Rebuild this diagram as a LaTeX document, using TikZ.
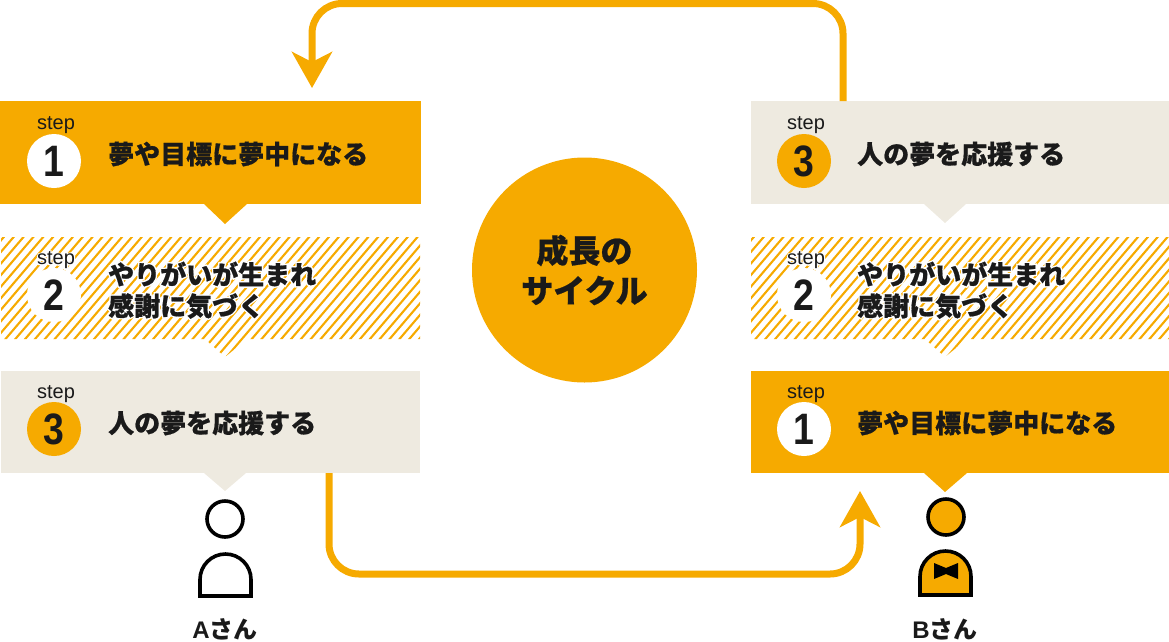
\documentclass[tikz,border=0pt]{standalone}
\usepackage{fontspec}
\usetikzlibrary{arrows.meta}
\newfontfamily\jp{Noto Sans CJK JP}
\newfontfamily\numf{Liberation Sans}
\newfontfamily\stepf{Liberation Sans}
\definecolor{org}{HTML}{F6AA00}
\definecolor{bei}{HTML}{EEEAE0}
\definecolor{ink}{HTML}{1A1A1A}
\newcommand\hl[1]{\rlap{\color{white}\addfontfeature{FakeBold=12}#1}#1}
\tikzset{
 panelorg/.style={fill=org,draw=none,rectangle,inner sep=0pt},
 panelbei/.style={fill=bei,draw=none,rectangle,inner sep=0pt},
 steplab/.style={text=ink,font=\stepf\fontsize{20}{20}\selectfont,inner sep=0pt},
 jptext/.style={text=ink,anchor=west,inner sep=0pt,font=\jp\bfseries\fontsize{26}{26}\selectfont\addfontfeature{FakeBold=0.7}},
 numdisc/.style={circle,minimum size=54pt,inner sep=0pt,text=ink,font=\numf\bfseries\fontsize{44}{44}\selectfont},
 flow/.style={draw=org,line width=7pt,rounded corners=30pt,-{Stealth[length=36pt,width=40pt,inset=10pt]}},
 person/.style={draw=black,line width=3.6pt},
 hatchline/.style={draw=org,line width=2.1pt},
}
\newcommand\num[1]{\scalebox{0.85}[1]{#1}}
\begin{document}
\begin{tikzpicture}[x=1pt,y=-1pt]
\useasboundingbox (0,0) rectangle (1169,641);
% left panels
\node[panelorg,minimum width=421pt,minimum height=103pt,anchor=north west] (la) at (0,101) {};
\fill[org] (204,204) -- (247,204) -- (225,224) -- cycle;
\begin{scope}
\clip (1,237) -- (420,237) -- (420,339) -- (247,339) -- (225,357) -- (205,339) -- (1,339) -- cycle;
\foreach \i in {-14,...,44} \draw[hatchline] ({\i*9.85},357) -- ({\i*9.85+104},235);
\end{scope}
\node[panelbei,minimum width=419pt,minimum height=102pt,anchor=north west] (lc) at (1,371) {};
\fill[bei] (204,473) -- (246,473) -- (225,491) -- cycle;
% right panels
\node[panelbei,minimum width=418pt,minimum height=103pt,anchor=north west] (rc) at (751,101) {};
\fill[bei] (924,204) -- (966,204) -- (945,223) -- cycle;
\begin{scope}
\clip (751,237) -- (1169,237) -- (1169,339) -- (967,339) -- (945,357) -- (925,339) -- (751,339) -- cycle;
\foreach \i in {-14,...,44} \draw[hatchline] ({750+\i*9.85},357) -- ({750+\i*9.85+104},235);
\end{scope}
\node[panelorg,minimum width=418pt,minimum height=102pt,anchor=north west] (ra) at (751,371) {};
\fill[org] (924,473) -- (967,473) -- (945,492) -- cycle;
% discs
\node[numdisc,fill=white] (n1) at (54,161) {\num{1}};
\node[numdisc,fill=white] (n2) at (54,295) {\num{2}};
\node[numdisc,fill=org] (n3) at (54,429) {\num{3}};
\node[numdisc,fill=org] (m3) at (804,161) {\num{3}};
\node[numdisc,fill=white] (m2) at (804,295) {\num{2}};
\node[numdisc,fill=white] (m1) at (804,429) {\num{1}};
% step labels
\node[steplab] (s1) at (56,125) {step};
\node[steplab] (s2) at (56,260) {\hl{step}};
\node[steplab] (s3) at (56,394) {step};
\node[steplab] (t3) at (806,125) {step};
\node[steplab] (t2) at (806,260) {\hl{step}};
\node[steplab] (t1) at (806,394) {step};
% texts
\node[jptext] (x1) at (108,154) {夢や目標に夢中になる};
\node[jptext] (x2) at (108,274) {\hl{やりがいが生まれ}};
\node[jptext] (x2b) at (108,306) {\hl{感謝に気づく}};
\node[jptext] (x3) at (108,423) {人の夢を応援する};
\node[jptext] (y3) at (857,154) {人の夢を応援する};
\node[jptext] (y2) at (857,274) {\hl{やりがいが生まれ}};
\node[jptext] (y2b) at (857,306) {\hl{感謝に気づく}};
\node[jptext] (y1) at (857,423) {夢や目標に夢中になる};
% centre
\node[circle,fill=org,minimum size=225pt,inner sep=0pt,align=center,text=ink,font=\jp\bfseries\fontsize{32}{40}\selectfont\addfontfeature{FakeBold=0.7}] (c) at (584.5,270) {成長の\\サイクル};
% flows
\coordinate (f1) at (843,101);
\coordinate (f2) at (312,88);
\coordinate (g1) at (329,473);
\coordinate (g2) at (860,491);
\draw[flow] (f1) -- (843,3.5) -- (312,3.5) -- (f2);
\draw[flow] (g1) -- (329,574) -- (860,574) -- (g2);
% person A
\node[circle,person,minimum size=36pt,inner sep=0pt] (ah) at (225,519) {};
\draw[person,line join=miter] (200,596) -- (200,579.5) arc[start angle=180,end angle=360,radius=25.5] -- (251,596) -- cycle;
\node[text=ink,inner sep=0pt,font=\jp\bfseries\fontsize{24}{24}\selectfont] (al) at (225,629) {{\numf\bfseries A}さん};
% person B
\node[circle,person,fill=org,minimum size=36pt,inner sep=0pt] (bh) at (946,517) {};
\draw[person,fill=org,line join=miter] (920,595) -- (920,576.5) arc[start angle=180,end angle=360,radius=25.5] -- (971,595) -- cycle;
\fill[black] (934,563) -- (946,568) -- (958,563) -- (958,579) -- (946,574) -- (934,579) -- cycle;
\node[text=ink,inner sep=0pt,font=\jp\bfseries\fontsize{24}{24}\selectfont] (bl) at (945,629) {{\numf\bfseries B}さん};
\end{tikzpicture}
\end{document}
